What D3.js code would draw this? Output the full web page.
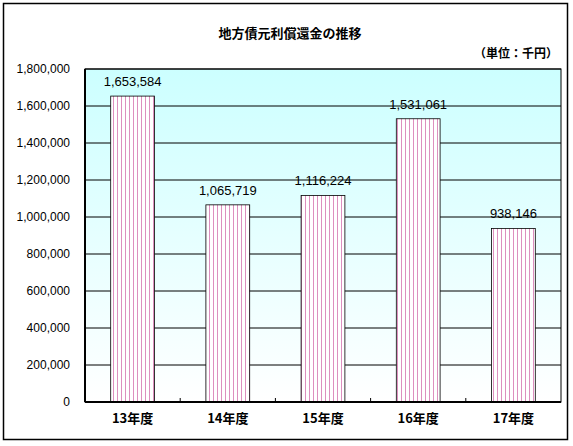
<!DOCTYPE html>
<html><head><meta charset="utf-8">
<script src="https://cdn.jsdelivr.net/npm/d3@7"></script>
<style>body{margin:0;background:#fff}</style>
</head><body>
<script>
const categories = ['13年度', '14年度', '15年度', '16年度', '17年度'];
const values = [1653584, 1065719, 1116224, 1531061, 938146];
const yTicks = [0, 200000, 400000, 600000, 800000, 1000000, 1200000, 1400000, 1600000, 1800000];

const width = 573, height = 446;
const m = {top: 69, right: 12, bottom: 44, left: 85};
const font = '"Liberation Sans", Arial, "Noto Sans CJK JP", sans-serif';
const cjk = '"Noto Sans CJK JP", sans-serif';

const svg = d3.select('body').append('svg')
  .attr('width', width).attr('height', height);

const defs = svg.append('defs');
const grad = defs.append('linearGradient').attr('id', 'bg')
  .attr('x1', 0).attr('y1', 0).attr('x2', 0).attr('y2', 1);
grad.append('stop').attr('offset', '0%').attr('stop-color', '#ccffff');
grad.append('stop').attr('offset', '100%').attr('stop-color', '#ffffff');
const pat = defs.append('pattern').attr('id', 'stripe')
  .attr('width', 4).attr('height', 4).attr('patternUnits', 'userSpaceOnUse');
pat.append('rect').attr('width', 4).attr('height', 4).attr('fill', '#fff');
pat.append('rect').attr('x', 1).attr('width', 1).attr('height', 4).attr('fill', '#dd8fbf');

svg.append('rect').attr('x', 3.5).attr('y', 3.5).attr('width', 564).attr('height', 436)
  .attr('fill', 'none').attr('stroke', '#000').attr('stroke-width', 1.5);

const x = d3.scaleBand().domain(categories).range([m.left, width - m.right])
  .paddingInner(0.54).paddingOuter(0.27);
const y = d3.scaleLinear().domain([0, 1800000]).range([height - m.bottom, m.top]);

svg.append('rect').attr('x', m.left).attr('y', m.top)
  .attr('width', width - m.right - m.left).attr('height', height - m.bottom - m.top)
  .attr('fill', 'url(#bg)');

svg.append('g').selectAll('line').data(yTicks.slice(1)).join('line')
  .attr('x1', m.left).attr('x2', width - m.right)
  .attr('y1', d => y(d)).attr('y2', d => y(d))
  .attr('stroke', '#000').attr('stroke-width', 1);

svg.append('g').selectAll('rect').data(values).join('rect')
  .attr('x', (d, i) => x(categories[i])).attr('width', x.bandwidth())
  .attr('y', d => y(d)).attr('height', d => y(0) - y(d))
  .attr('fill', 'url(#stripe)').attr('stroke', '#000').attr('stroke-width', 0.8);

svg.append('g').selectAll('text').data(values).join('text')
  .attr('x', (d, i) => x(categories[i]) + x.bandwidth() / 2)
  .attr('y', d => y(d) - 10)
  .attr('text-anchor', 'middle').attr('font-family', font).attr('font-size', 13)
  .text(d => d3.format(',')(d));

svg.append('line').attr('x1', m.left).attr('x2', m.left).attr('y1', m.top).attr('y2', y(0))
  .attr('stroke', '#000').attr('stroke-width', 2);
svg.append('line').attr('x1', m.left).attr('x2', width - m.right).attr('y1', y(0)).attr('y2', y(0))
  .attr('stroke', '#000').attr('stroke-width', 2);
svg.append('rect').attr('x', m.left).attr('y', m.top)
  .attr('width', width - m.right - m.left).attr('height', height - m.bottom - m.top)
  .attr('fill', 'none').attr('stroke', '#000').attr('stroke-width', 1);

const step = x.step();
svg.append('g').selectAll('line').data(categories.slice(1)).join('line')
  .attr('x1', d => x(d) - x.paddingInner() * step / 2)
  .attr('x2', d => x(d) - x.paddingInner() * step / 2)
  .attr('y1', y(0)).attr('y2', y(0) - 4).attr('stroke', '#000');

svg.append('g').selectAll('text').data(yTicks).join('text')
  .attr('x', m.left - 15).attr('y', d => y(d) + 4)
  .attr('text-anchor', 'end').attr('font-family', font).attr('font-size', 12)
  .text(d => d3.format(',')(d));

svg.append('g').selectAll('text').data(categories).join('text')
  .attr('x', d => x(d) + x.bandwidth() / 2).attr('y', height - m.bottom + 21)
  .attr('text-anchor', 'middle').attr('font-family', cjk).attr('font-size', 13).attr('font-weight', 'bold')
  .text(d => d);

svg.append('text').attr('x', 290).attr('y', 38).attr('text-anchor', 'middle')
  .attr('font-family', cjk).attr('font-size', 13).attr('font-weight', 'bold')
  .text('地方債元利償還金の推移');
svg.append('text').attr('x', 558).attr('y', 58).attr('text-anchor', 'end')
  .attr('font-family', cjk).attr('font-size', 12).attr('font-weight', 'bold')
  .text('（単位：千円）');
</script>
</body></html>
